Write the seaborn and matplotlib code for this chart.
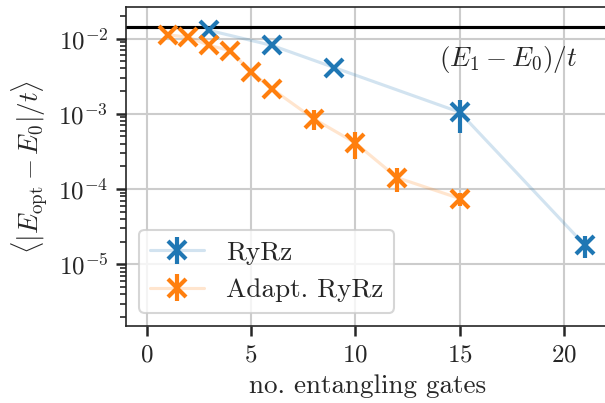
import numpy as np
import pandas as pd
import seaborn as sns
import matplotlib.pyplot as plt
from matplotlib.colors import to_rgba

# number of entangling gates and mean energy error
gates_ryrz = [3, 6, 9, 15, 21]
err_ryrz = [1.28e-2, 8.1e-3, 4.1e-3, 1.05e-3, 1.8e-5]
std_ryrz = [0, 0, 0, 4.9e-4, 6e-6]

gates_adapt = [1, 2, 3, 4, 5, 6, 8, 10, 12, 15]
err_adapt = [1.12e-2, 1.04e-2, 8.1e-3, 6.9e-3, 3.6e-3, 2.15e-3, 8.6e-4, 4.1e-4, 1.42e-4, 7.5e-5]
std_adapt = [0, 0, 0, 0, 0, 1.5e-4, 2.5e-4, 1.6e-4, 5e-5, 1.5e-5]

gap = 1.41e-2  # (E1 - E0)/t

sns.set_style("ticks")
plt.rcParams['font.family'] = 'serif'
plt.rcParams['font.serif'] = ['cmr10']
plt.rcParams['mathtext.fontset'] = 'cm'
plt.rcParams['axes.unicode_minus'] = False
plt.rcParams['axes.formatter.use_mathtext'] = True
plt.rcParams['font.size'] = 12

fig = plt.figure(figsize=(605 / 150, 403 / 150), dpi=150)
ax = fig.add_axes([0.208, 0.19, 0.80, 0.792])

df_r = pd.DataFrame({'gates': gates_ryrz, 'err': err_ryrz})
df_a = pd.DataFrame({'gates': gates_adapt, 'err': err_adapt})

for df, std, c, lab in [(df_r, std_ryrz, 'C0', 'RyRz'),
                        (df_a, std_adapt, 'C1', 'Adapt. RyRz')]:
    ax.errorbar(df['gates'], df['err'], yerr=std, fmt='x-', color=to_rgba(c, 0.2),
                mec=c, mfc=c, ecolor=c, ms=9, mew=2, elinewidth=2, lw=1.5, label=lab)

ax.axhline(gap, color='black', lw=1.5)
ax.text(14.0, 5.2e-3, r'$(E_1 - E_0)/t$', fontsize=13, va='center')

ax.set_yscale('log')
ax.set_xlim(-1, 22.2)
ax.set_ylim(1.5e-6, 2.6e-2)
ax.set_xticks([0, 5, 10, 15, 20])
ax.grid(True, which='major', color='#cccccc', lw=1)
ax.spines['right'].set_visible(False)
ax.tick_params(which='major', length=5, width=1.2)
ax.tick_params(which='minor', length=3, width=0.8)

ax.set_xlabel('no. entangling gates', fontsize=13)
ax.set_ylabel(r'$\langle |E_{\rm opt} - E_0|/t \rangle$', fontsize=13)
ax.legend(loc='lower left', fontsize=13)

fig.savefig('out.png', dpi=150)
